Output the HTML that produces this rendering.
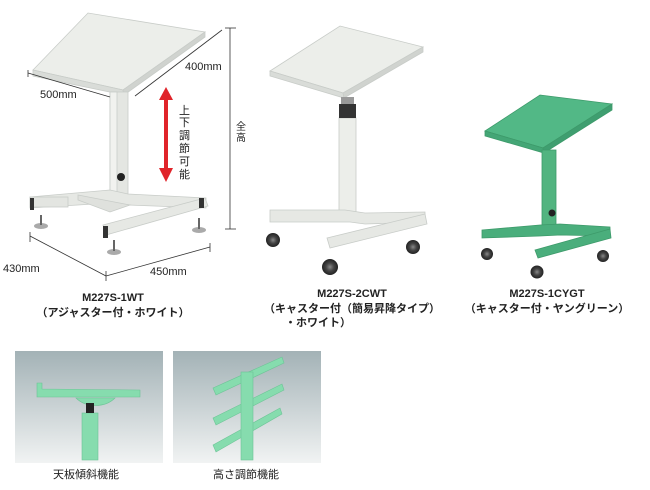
<!DOCTYPE html>
<html><head><meta charset="utf-8"><style>
body{margin:0;background:#fff;width:650px;height:490px;overflow:hidden;font-family:"Liberation Sans","Noto Sans CJK JP",sans-serif}
svg{display:block}
.t{font-family:"Liberation Sans","Noto Sans CJK JP",sans-serif;fill:#222}
</style></head><body>
<svg width="650" height="490" viewBox="0 0 650 490" xmlns="http://www.w3.org/2000/svg">
<defs>
<linearGradient id="bg" x1="0" y1="0" x2="0" y2="1"><stop offset="0" stop-color="#a3b2b6"/><stop offset="1" stop-color="#f1f3f3"/></linearGradient>
<radialGradient id="wh"><stop offset="0" stop-color="#888"/><stop offset="0.5" stop-color="#444"/><stop offset="1" stop-color="#222"/></radialGradient>
</defs>
<!-- Table 1 -->
<g stroke="#c8ccc8" stroke-width="0.8">
<polygon points="33,70 88,13 205,32 123,90" fill="#eceeea"/>
<polygon points="33,70 123,90 124,95 33,76" fill="#d9dcd8"/>
<polygon points="123,90 205,32 205,37 124,95" fill="#d0d3cf"/>
<rect x="110" y="92" width="18" height="105" fill="#e4e6e2"/>
<rect x="110" y="92" width="7" height="105" fill="#f1f2ef"/>
<polygon points="30,197 110,190 128,194 206,198 206,208 128,205 110,203 30,208" fill="#e6e8e4"/>
<polygon points="78,195 130,205 110,212 78,200" fill="#dfe1dd"/>
<rect x="30" y="197" width="38" height="10" fill="#e3e5e1"/>
<polygon points="103,225 205,198 208,206 106,235" fill="#e6e8e4"/>
</g>
<rect x="30" y="198" width="4" height="12" fill="#333"/>
<rect x="103" y="226" width="5" height="12" fill="#333"/>
<rect x="199" y="198" width="5" height="10" fill="#333"/>
<circle cx="121" cy="177" r="4" fill="#222"/>
<g fill="#aaa"><ellipse cx="41" cy="226" rx="7" ry="3"/><ellipse cx="114" cy="252" rx="7" ry="3"/><ellipse cx="199" cy="230" rx="7" ry="3"/></g>
<g fill="#666"><rect x="40" y="215" width="2" height="10"/><rect x="113" y="240" width="2" height="11"/><rect x="198" y="218" width="2" height="11"/></g>
<!-- dims -->
<g stroke="#333" stroke-width="0.8" fill="none">
<line x1="28" y1="73" x2="110" y2="97"/><line x1="28" y1="70" x2="28" y2="77"/>
<line x1="135" y1="96" x2="222" y2="30"/>
<line x1="230" y1="28" x2="230" y2="229"/><line x1="225" y1="28" x2="236" y2="28"/><line x1="225" y1="229" x2="236" y2="229"/>
<line x1="30" y1="236" x2="106" y2="276"/><line x1="30" y1="232" x2="30" y2="242"/>
<line x1="106" y1="276" x2="210" y2="247"/><line x1="106" y1="271" x2="106" y2="281"/><line x1="210" y1="243" x2="210" y2="252"/>
</g>
<g fill="#e0242a"><polygon points="166,87 159,100 173,100"/><rect x="164" y="99" width="4" height="70"/><polygon points="166,182 159,168 173,168"/></g>
<text class="t" x="40" y="98" font-size="11">500mm</text>
<text class="t" x="185" y="70" font-size="11">400mm</text>
<text class="t" x="3" y="272" font-size="11">430mm</text>
<text class="t" x="150" y="275" font-size="11">450mm</text>
<g class="t" font-size="11"><text x="179" y="114">上</text><text x="179" y="126">下</text><text x="179" y="139">調</text><text x="179" y="152">節</text><text x="179" y="165">可</text><text x="179" y="170" dy="0"></text><text x="179" y="178">能</text></g>
<g class="t" font-size="10"><text x="236" y="130">全</text><text x="236" y="141">高</text></g>
<g class="t" font-size="11" font-weight="bold" text-anchor="middle">
<text x="113" y="301">M227S-1WT</text><text x="113" y="316">（アジャスター付・ホワイト）</text>
<text x="352" y="297">M227S-2CWT</text><text x="352" y="312">（キャスター付（簡易昇降タイプ）</text><text x="318" y="326">・ホワイト）</text>
<text x="547" y="297">M227S-1CYGT</text><text x="547" y="312">（キャスター付・ヤングリーン）</text>
</g>
<!-- Table 2 -->
<g stroke="#c8ccc8" stroke-width="0.8">
<polygon points="270,71 340,26 423,47 343,93" fill="#eceeea"/>
<polygon points="270,71 343,93 344,98 270,76" fill="#d9dcd8"/>
<polygon points="343,93 423,47 423,52 344,98" fill="#d0d3cf"/>
<rect x="339" y="118" width="17" height="100" fill="#eceeea"/>
<polygon points="270,210 345,210 365,213 425,212 425,222 365,224 350,222 270,222" fill="#e6e8e4"/>
<polygon points="327,238 425,214 427,224 330,248" fill="#e6e8e4"/>
</g>
<rect x="341" y="97" width="13" height="8" fill="#999"/><rect x="339" y="104" width="17" height="14" fill="#333"/>
<g fill="url(#wh)"><circle cx="273" cy="240" r="7"/><circle cx="330" cy="267" r="8"/><circle cx="413" cy="247" r="7"/></g>
<!-- Table 3 -->
<g stroke="#3d9a6a" stroke-width="0.8">
<polygon points="485,131 540,95 612,104 543,148" fill="#52b886"/>
<polygon points="485,131 543,148 544,153 485,136" fill="#44a676"/>
<polygon points="543,148 612,104 612,110 544,153" fill="#3f9e70"/>
<rect x="542" y="150" width="14" height="78" fill="#52b480"/>
<polygon points="482,230 540,225 560,224 610,227 610,236 560,235 540,236 482,238" fill="#4aae7c"/>
<polygon points="535,250 610,229 611,238 538,258" fill="#4aae7c"/>
</g>
<circle cx="552" cy="213" r="3.5" fill="#222"/>
<g fill="url(#wh)"><circle cx="487" cy="254" r="6"/><circle cx="537" cy="272" r="6.5"/><circle cx="603" cy="256" r="6"/></g>
<!-- photos -->
<rect x="15" y="351" width="148" height="112" fill="url(#bg)"/>
<rect x="173" y="351" width="148" height="112" fill="url(#bg)"/>
<g fill="#86dcae" stroke="#6cc496" stroke-width="0.6">
<polygon points="37,383 42,383 42,389 140,390 140,397 37,397"/>
<path d="M76,398 A25,20 0 0 0 115,398 Z"/>
<rect x="82" y="413" width="16" height="47"/>
<g transform="translate(0,0)">
<polygon points="213,388 282,357 284,363 216,395"/>
<polygon points="213,418 282,384 284,390 216,425"/>
<polygon points="213,445 280,408 282,414 216,452"/>
<rect x="241" y="372" width="12" height="88"/>
</g>
</g>
<rect x="86" y="403" width="8" height="10" fill="#222"/>
<text class="t" x="86" y="478" font-size="11" text-anchor="middle">天板傾斜機能</text>
<text class="t" x="246" y="478" font-size="11" text-anchor="middle">高さ調節機能</text>
</svg>
</body></html>
